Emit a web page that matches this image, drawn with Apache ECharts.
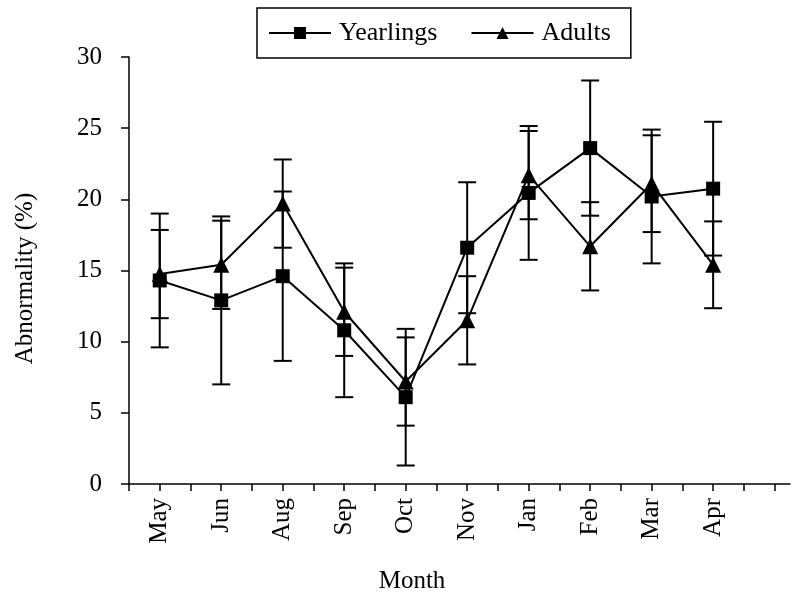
<!DOCTYPE html>
<html>
<head>
<meta charset="utf-8">
<script src="https://cdn.jsdelivr.net/npm/echarts@6/dist/echarts.min.js"></script>
<style>html,body{margin:0;padding:0;background:#fff}#c{width:795px;height:605px}</style>
</head>
<body>
<div id="c"></div>
<script>
var months = ['May','Jun','Aug','Sep','Oct','Nov','Jan','Feb','Mar','Apr'];
var positions = [1,3,5,7,9,11,13,15,17,19];
var yearlings = [14.3, 12.9, 14.6, 10.8, 6.1, 16.6, 20.45, 23.6, 20.2, 20.75];
var yearlingsErr = [4.7, 5.9, 5.95, 4.7, 4.8, 4.6, 4.7, 4.75, 4.7, 4.7];
var adults = [14.75, 15.4, 19.7, 12.1, 7.2, 11.5, 21.7, 16.7, 21.1, 15.4];
var adultsErr = [3.1, 3.1, 3.1, 3.1, 3.1, 3.1, 3.1, 3.1, 3.4, 3.05];
var yTicks = [0,5,10,15,20,25,30];
var xTicks = [0,1,2,3,4,5,6,7,8,9,10,11,12,13,14,15,16,17,18,19,20,21];

var FONT = 'Liberation Serif';
function pts(vals){ return vals.map(function(v,i){ return [positions[i], v]; }); }
function errs(vals, e){ return vals.map(function(v,i){ return [positions[i], v - e[i], v + e[i]]; }); }

function errRender(params, api){
  var x = api.value(0);
  var lo = api.coord([x, api.value(1)]);
  var hi = api.coord([x, api.value(2)]);
  var hw = 9;
  var st = {stroke:'#000', lineWidth:2};
  return {type:'group', children:[
    {type:'line', shape:{x1:lo[0], y1:lo[1], x2:hi[0], y2:hi[1]}, style:st},
    {type:'line', shape:{x1:lo[0]-hw, y1:lo[1], x2:lo[0]+hw, y2:lo[1]}, style:st},
    {type:'line', shape:{x1:hi[0]-hw, y1:hi[1], x2:hi[0]+hw, y2:hi[1]}, style:st}
  ]};
}

var chart = echarts.init(document.getElementById('c'), null, {renderer:'canvas'});
chart.setOption({
  backgroundColor:'#fff',
  animation:false,
  textStyle:{fontFamily:FONT, color:'#000'},
  title:{
    text:'Month', left:407, top:564, textAlign:'center',
    textStyle:{fontFamily:FONT, fontSize:25, fontWeight:'normal', color:'#000'}
  },
  grid:{left:129, right:5, top:57, bottom:121},
  legend:{
    data:['Yearlings','Adults'],
    left:257, top:8,
    padding:[12, 20, 12, 11],
    itemGap:33, itemWidth:62, itemHeight:15,
    borderColor:'#000', borderWidth:1.5,
    textStyle:{fontFamily:FONT, fontSize:26, color:'#000', padding:[0,0,0,3]}
  },
  xAxis:{
    type:'value', min:0, max:21.5,
    axisLine:{show:true, onZero:false, lineStyle:{color:'#000', width:1.5}},
    axisTick:{show:true, length:7, customValues:xTicks, lineStyle:{color:'#000', width:1.5}},
    axisLabel:{customValues:positions, rotate:90, margin:14, fontFamily:FONT, fontSize:25, color:'#000',
      formatter:function(v){ var i = positions.indexOf(v); return i>=0 ? months[i] : ''; }},
    splitLine:{show:false}
  },
  yAxis:{
    type:'value', min:0, max:30, interval:5,
    name:'Abnormality (%)', nameLocation:'middle', nameGap:91, nameRotate:90,
    nameTextStyle:{fontFamily:FONT, fontSize:25, color:'#000', padding:[0, 16, 0, 0]},
    axisLine:{show:true, lineStyle:{color:'#000', width:1.5}},
    axisTick:{show:true, length:8, lineStyle:{color:'#000', width:1.5}},
    axisLabel:{margin:27, fontFamily:FONT, fontSize:25, color:'#000'},
    splitLine:{show:false}
  },
  series:[
    {type:'custom', name:'yErr', renderItem:errRender, data:errs(yearlings, yearlingsErr), z:1, silent:true},
    {type:'custom', name:'aErr', renderItem:errRender, data:errs(adults, adultsErr), z:1, silent:true},
    {type:'line', name:'Yearlings', data:pts(yearlings), symbol:'rect', symbolSize:14,
      itemStyle:{color:'#000'}, lineStyle:{color:'#000', width:2}, z:3},
    {type:'line', name:'Adults', data:pts(adults), symbol:'triangle', symbolSize:16,
      itemStyle:{color:'#000'}, lineStyle:{color:'#000', width:2}, z:3}
  ]
});
</script>
</body>
</html>
